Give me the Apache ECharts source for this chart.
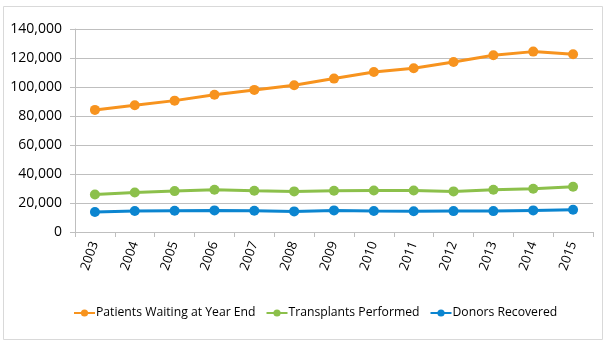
<!DOCTYPE html>
<html>
<head>
<meta charset="utf-8">
<script src="https://cdn.jsdelivr.net/npm/echarts@6/dist/echarts.min.js"></script>
<style>
  html, body { margin: 0; padding: 0; background: #ffffff; }
  #chart { width: 612px; height: 349px; }
</style>
</head>
<body>
<div id="chart"></div>
<script>
// Organ transplant statistics, 2003–2015
var years = ['2003','2004','2005','2006','2007','2008','2009','2010','2011','2012','2013','2014','2015'];
var patientsWaiting = [84200, 87400, 90600, 94700, 98000, 101200, 105800, 110400, 112900, 117300, 121900, 124400, 122600];
var transplantsPerformed = [25900, 27300, 28200, 29100, 28400, 28000, 28400, 28600, 28600, 28000, 29100, 29800, 31200];
var donorsRecovered = [13800, 14500, 14700, 14900, 14600, 14200, 14900, 14500, 14300, 14400, 14400, 14900, 15400];
var yTicks = { min: 0, max: 140000, interval: 20000 };

var seriesNames = ['Patients Waiting at Year End', 'Transplants Performed', 'Donors Recovered'];
var seriesColors = ['#F7931E', '#8CC04B', '#0B85D0'];
var seriesData = [patientsWaiting, transplantsPerformed, donorsRecovered];

var font = '"Open Sans", "DejaVu Sans", sans-serif';
var chart = echarts.init(document.getElementById('chart'), null, { renderer: 'canvas' });

chart.setOption({
  animation: false,
  backgroundColor: '#ffffff',
  graphic: [{
    type: 'rect',
    shape: { x: 3.5, y: 6.5, width: 599, height: 333 },
    style: { fill: 'none', stroke: '#d9d9d9', lineWidth: 1 },
    silent: true,
    z: -1
  }],
  grid: { left: 75, right: 19, top: 29, bottom: 117, containLabel: false },
  legend: {
    top: 302,
    left: 68,
    itemWidth: 21,
    itemHeight: 9,
    itemGap: 10,
    data: seriesNames,
    textStyle: { fontFamily: font, fontSize: 12.2, color: '#000000', padding: [0, 0, 0, -4] }
  },
  xAxis: {
    type: 'category',
    data: years,
    boundaryGap: true,
    axisLine: { show: true, lineStyle: { color: '#bfbfbf', width: 1 } },
    axisTick: { show: true, length: 5, lineStyle: { color: '#bfbfbf' } },
    axisLabel: { rotate: 70, margin: 10, fontFamily: font, fontSize: 13, color: '#000000' },
    splitLine: { show: false }
  },
  yAxis: {
    type: 'value',
    min: yTicks.min,
    max: yTicks.max,
    interval: yTicks.interval,
    axisLine: { show: true, lineStyle: { color: '#bfbfbf', width: 1 } },
    axisTick: { show: true, length: 5, lineStyle: { color: '#bfbfbf' } },
    axisLabel: {
      margin: 13,
      fontFamily: font,
      fontSize: 14,
      color: '#000000',
      formatter: function (v) { return v.toLocaleString('en-US'); }
    },
    splitLine: { show: true, lineStyle: { color: '#bfbfbf', width: 1 } }
  },
  series: seriesNames.map(function (name, i) {
    return {
      name: name,
      type: 'line',
      data: seriesData[i],
      symbol: 'circle',
      symbolSize: 10,
      showAllSymbol: true,
      lineStyle: { color: seriesColors[i], width: 3 },
      itemStyle: { color: seriesColors[i] },
      emphasis: { disabled: true }
    };
  })
});
</script>
</body>
</html>
